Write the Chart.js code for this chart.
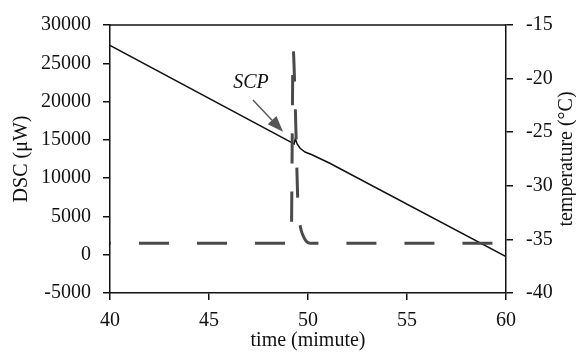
<!DOCTYPE html>
<html>
<head>
<meta charset="utf-8">
<script src="https://cdn.jsdelivr.net/npm/chart.js@4"></script>
<style>
  body { margin: 0; background: #fff; }
</style>
</head>
<body>
<canvas id="chart" width="576" height="354"></canvas>
<script>
// DSC heat flow (left axis)
const dscTime  = [40, 49.15, 49.25, 49.35, 49.5, 49.62, 49.75, 49.9, 50.1, 60]
const dscValue = [1500, 1500, 26800, 20000, 6000, 3600, 2500, 1800, 1500, 1500]
// sample temperature (right axis)
const tempTime  = [40, 49.3, 49.36, 49.45, 49.6, 49.85, 50.2, 51.1, 60]
const tempValue = [-16.9, -26.1, -25.6, -26.1, -26.5, -26.85, -27.1, -27.9, -36.6]
// tick labels
const timeTicks = [40, 45, 50, 55, 60]
const dscTicks  = [-5000, 0, 5000, 10000, 15000, 20000, 25000, 30000]
const tempTicks = [-40, -35, -30, -25, -20, -15]

const serif = 'Liberation Serif'
const ink = '#111'

// SCP note: label point and arrow, in data units (time, DSC)
const scpLabel = [47.12, 22400]
const scpArrowFrom = [47.22, 20200]
const scpArrowTo = [48.74, 16050]

const fixedTicks = list => scale => { scale.ticks = list.map(v => ({ value: v })) }

const extras = {
  id: 'extras',
  afterDraw(chart) {
    const { ctx, chartArea: a, scales } = chart
    const x = scales.x, y = scales.y
    ctx.save()
    // top edge of the frame
    ctx.strokeStyle = ink
    ctx.lineWidth = 1.5
    ctx.beginPath()
    ctx.moveTo(a.left, a.top)
    ctx.lineTo(a.right, a.top)
    ctx.stroke()

    // right axis title, reading bottom to top
    ctx.save()
    ctx.translate(scales.y2.right - 9, (a.top + a.bottom) / 2)
    ctx.rotate(-Math.PI / 2)
    ctx.fillStyle = ink
    ctx.font = `20px "${serif}"`
    ctx.textAlign = 'center'
    ctx.textBaseline = 'middle'
    ctx.fillText('temperature (°C)', 0, 0)
    ctx.restore()

    // SCP label + arrow
    ctx.fillStyle = ink
    ctx.font = `italic 20px "${serif}"`
    ctx.textAlign = 'center'
    ctx.textBaseline = 'middle'
    ctx.fillText('SCP', x.getPixelForValue(scpLabel[0]), y.getPixelForValue(scpLabel[1]))

    const x0 = x.getPixelForValue(scpArrowFrom[0]), y0 = y.getPixelForValue(scpArrowFrom[1])
    const x1 = x.getPixelForValue(scpArrowTo[0]), y1 = y.getPixelForValue(scpArrowTo[1])
    const ang = Math.atan2(y1 - y0, x1 - x0)
    const head = 16, half = 6
    const bx = x1 - head * Math.cos(ang), by = y1 - head * Math.sin(ang)
    ctx.strokeStyle = '#555'
    ctx.fillStyle = '#555'
    ctx.lineWidth = 1.4
    ctx.beginPath()
    ctx.moveTo(x0, y0)
    ctx.lineTo(bx, by)
    ctx.stroke()
    ctx.beginPath()
    ctx.moveTo(x1, y1)
    ctx.lineTo(bx + half * Math.sin(ang), by - half * Math.cos(ang))
    ctx.lineTo(bx - half * Math.sin(ang), by + half * Math.cos(ang))
    ctx.closePath()
    ctx.fill()
    ctx.restore()
  }
}

const tickFont = { family: serif, size: 20 }
const axisGrid = { drawOnChartArea: false, drawTicks: true, tickLength: 7, color: ink, lineWidth: 1.5 }
const axisBorder = { color: ink, width: 1.5 }

new Chart(document.getElementById('chart'), {
  type: 'line',
  data: {
    datasets: [
      {
        label: 'DSC',
        data: dscTime.map((t, i) => ({ x: t, y: dscValue[i] })),
        yAxisID: 'y',
        borderColor: '#4a4a4a',
        borderWidth: 3,
        borderDash: [30, 28],
        borderDashOffset: 29,
        cubicInterpolationMode: 'monotone',
        pointRadius: 0
      },
      {
        label: 'temperature',
        data: tempTime.map((t, i) => ({ x: t, y: tempValue[i] })),
        yAxisID: 'y2',
        borderColor: ink,
        borderWidth: 1.5,
        tension: 0,
        pointRadius: 0
      }
    ]
  },
  options: {
    responsive: false,
    animation: false,
    layout: { padding: { top: 22, left: 0, right: 0, bottom: 0 } },
    plugins: { legend: { display: false }, tooltip: { enabled: false } },
    scales: {
      x: {
        type: 'linear',
        min: 40, max: 60,
        afterBuildTicks: fixedTicks(timeTicks),
        afterFit: s => { s.height = 61 },
        grid: axisGrid,
        border: axisBorder,
        ticks: { font: tickFont, color: ink, padding: 9, maxRotation: 0, callback: v => v },
        title: { display: true, text: 'time (mimute)', font: tickFont, color: ink, padding: { top: 0, bottom: 1 } }
      },
      y: {
        position: 'left',
        min: -5000, max: 30000,
        afterBuildTicks: fixedTicks(dscTicks),
        afterFit: s => { s.width = 110 },
        grid: axisGrid,
        border: axisBorder,
        ticks: { font: tickFont, color: ink, padding: 12, callback: v => v },
        title: { display: true, text: 'DSC (μW)', font: tickFont, color: ink, padding: { top: 10, bottom: 0 } }
      },
      y2: {
        position: 'right',
        min: -40, max: -15,
        afterBuildTicks: fixedTicks(tempTicks),
        afterFit: s => { s.width = 70 },
        grid: axisGrid,
        border: axisBorder,
        ticks: { font: tickFont, color: ink, padding: 13, callback: v => v }
      }
    }
  },
  plugins: [extras]
})
</script>
</body>
</html>
